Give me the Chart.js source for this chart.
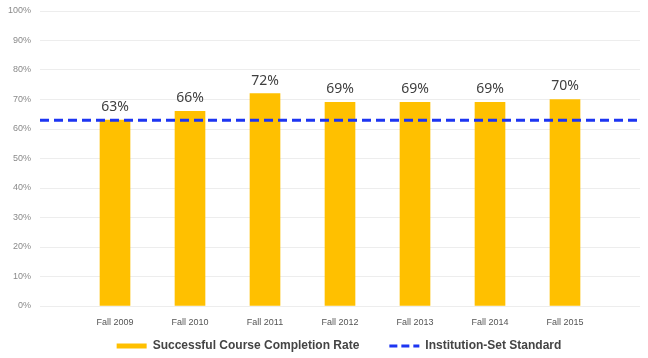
<!DOCTYPE html>
<html>
<head>
<meta charset="utf-8">
<script src="https://cdn.jsdelivr.net/npm/chart.js@4"></script>
<style>
  html, body { margin: 0; padding: 0; background: #ffffff; }
  #wrap { width: 648px; height: 358px; position: relative; }
</style>
</head>
<body>
<div id="wrap"><canvas id="completionChart"></canvas></div>
<script>
// data
const terms = ["Fall 2009", "Fall 2010", "Fall 2011", "Fall 2012", "Fall 2013", "Fall 2014", "Fall 2015"];
const completionRates = [63, 66, 72, 69, 69, 69, 70];
const institutionStandard = 63;
const yTicks = [0, 10, 20, 30, 40, 50, 60, 70, 80, 90, 100];

// bars sit at 1..n, axis runs from 0 to n+1 so the standard line spans the full width
const xMin = 0;
const xMax = terms.length + 1;

document.addEventListener('DOMContentLoaded', function() {
    const canvas = document.getElementById('completionChart');
    if (!canvas) return;
    const ctx = canvas.getContext('2d');

    const barPoints = completionRates.map(function(v, i) { return { x: i + 1, y: v }; });
    const standardPoints = [{ x: xMin, y: institutionStandard }, { x: xMax, y: institutionStandard }];

    // value labels above bars
    const valueLabels = {
        id: 'valueLabels',
        afterDatasetsDraw: function(chart) {
            const meta = chart.getDatasetMeta(0);
            const c = chart.ctx;
            c.save();
            c.font = '14px "Noto Sans", sans-serif';
            c.fillStyle = '#404040';
            c.textAlign = 'center';
            c.textBaseline = 'bottom';
            meta.data.forEach(function(bar, i) {
                c.fillText(completionRates[i] + '%', bar.x, bar.y - 6);
            });
            c.restore();
        }
    };

    // legend items sit wide apart (padding 30) but the legend box stays short
    const legendFit = {
        id: 'legendFit',
        beforeInit: function(chart) {
            const lg = chart.legend;
            if (!lg) return;
            const fit = lg.fit.bind(lg);
            lg.fit = function() { fit(); this.height = 30; };
        },
        afterLayout: function(chart) {
            const lg = chart.legend;
            if (!lg) return;
            // only move the top up, legend clips to its own box
            lg.top -= 18;
            lg.height = lg.bottom - lg.top;
            // nudge right, the reference legend sits a bit right of centre
            lg.left += 19;
            lg.right += 19;
        }
    };

    new Chart(ctx, {
        type: 'bar',
        data: {
            datasets: [{
                label: 'Successful Course Completion Rate',
                data: barPoints,
                backgroundColor: '#FFC000',
                barThickness: 30,
                order: 2
            }, {
                type: 'line',
                label: 'Institution-Set Standard',
                data: standardPoints,
                borderColor: '#1d35f2',
                borderWidth: 3,
                borderDash: [9, 5],
                pointRadius: 0,
                fill: false,
                order: 1
            }]
        },
        options: {
            responsive: true,
            maintainAspectRatio: false,
            animation: false,
            layout: { padding: { top: 11, right: 8, bottom: 0, left: 0 } },
            scales: {
                x: {
                    type: 'linear',
                    min: xMin,
                    max: xMax,
                    offset: false,
                    grid: { display: false, drawTicks: false },
                    border: { display: false },
                    afterBuildTicks: function(scale) {
                        scale.ticks = terms.map(function(t, i) { return { value: i + 1 }; });
                    },
                    afterFit: function(scale) { scale.height = 22; },
                    ticks: {
                        font: { family: '"Liberation Sans", Arial, sans-serif', size: 9 },
                        color: '#555555',
                        padding: 11,
                        maxRotation: 0,
                        callback: function(v) { return terms[v - 1] || ''; }
                    }
                },
                y: {
                    min: 0,
                    max: 100,
                    afterBuildTicks: function(scale) {
                        scale.ticks = yTicks.map(function(v) { return { value: v }; });
                    },
                    afterFit: function(scale) {
                        scale.width = 40;
                        scale.paddingTop = 0; // let layout padding set the top
                    },
                    grid: { color: '#ededed', drawTicks: false },
                    border: { display: false },
                    ticks: {
                        font: { family: '"Liberation Sans", Arial, sans-serif', size: 9 },
                        color: '#8a8a8a',
                        padding: 9,
                        callback: function(v) { return v + '%'; }
                    }
                }
            },
            plugins: {
                legend: {
                    display: true,
                    position: 'bottom',
                    labels: {
                        usePointStyle: true,
                        pointStyleWidth: 30,
                        padding: 30,
                        color: '#444444',
                        font: { family: '"Liberation Sans", Arial, sans-serif', size: 12, weight: 'bold' },
                        generateLabels: function(chart) {
                            return chart.data.datasets.map(function(ds, i) {
                                const isLine = ds.type === 'line';
                                return {
                                    text: ds.label,
                                    datasetIndex: i,
                                    pointStyle: 'line',
                                    fillStyle: isLine ? ds.borderColor : ds.backgroundColor,
                                    strokeStyle: isLine ? ds.borderColor : ds.backgroundColor,
                                    lineWidth: isLine ? 3 : 5,
                                    lineDash: isLine ? [8, 4] : [],
                                    fontColor: '#444444',
                                    hidden: false
                                };
                            });
                        }
                    }
                },
                tooltip: { enabled: false }
            }
        },
        plugins: [valueLabels, legendFit]
    });
});
</script>
</body>
</html>
